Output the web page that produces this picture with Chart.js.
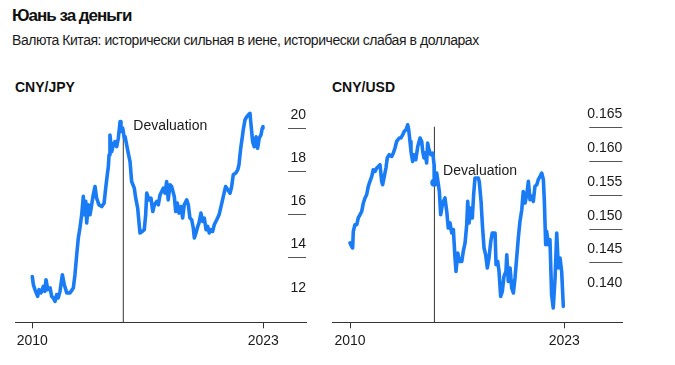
<!DOCTYPE html>
<html>
<head>
<meta charset="utf-8">
<script src="https://cdn.jsdelivr.net/npm/chart.js@4"></script>
<style>
  html, body { margin: 0; padding: 0; background: #fff; }
  body { width: 675px; height: 365px; position: relative; overflow: hidden;
         font-family: "Liberation Sans", Arial, Helvetica, sans-serif; color: #111; }
  #title { position: absolute; left: 12px; top: 6px; font-size: 17px; font-weight: bold; letter-spacing: -1px; }
  #subtitle { position: absolute; left: 12px; top: 32px; font-size: 14px; letter-spacing: -0.45px; color: #1a1a1a; }
  .ctitle { position: absolute; top: 79px; font-size: 14px; font-weight: bold; color: #111; }
  canvas { position: absolute; }
</style>
</head>
<body>
<div id="title">Юань за деньги</div>
<div id="subtitle">Валюта Китая: исторически сильная в иене, исторически слабая в долларах</div>
<div class="ctitle" style="left:15px">CNY/JPY</div>
<div class="ctitle" style="left:332px">CNY/USD</div>
<canvas id="c1" width="320" height="285" style="left:0;top:80px"></canvas>
<canvas id="c2" width="355" height="285" style="left:320px;top:80px"></canvas>
<script>
// ---- data ----
const xTickYears = [2010, 2023];
const devaluationYear = 2015.12;
const devaluationLabel = "Devaluation";

const jpyYears = [2010.00,2010.06,2010.15,2010.30,2010.38,2010.49,2010.62,2010.71,2010.77,2010.87,
  2011.00,2011.09,2011.18,2011.28,2011.37,2011.46,2011.56,2011.69,2011.80,2011.94,
  2012.12,2012.31,2012.40,2012.50,2012.59,2012.68,2012.78,2012.87,2012.93,2013.01,
  2013.06,2013.15,2013.25,2013.34,2013.43,2013.53,2013.62,2013.75,2013.91,2014.04,
  2014.13,2014.22,2014.28,2014.32,2014.37,2014.47,2014.56,2014.65,2014.75,2014.84,
  2014.94,2014.99,2015.09,2015.18,2015.22,2015.31,2015.40,2015.50,2015.59,2015.74,
  2015.82,2015.93,2016.00,2016.06,2016.19,2016.30,2016.38,2016.44,2016.57,2016.68,
  2016.78,2016.87,2017.00,2017.09,2017.19,2017.28,2017.37,2017.47,2017.56,2017.65,
  2017.75,2017.84,2017.99,2018.07,2018.16,2018.26,2018.37,2018.46,2018.55,2018.69,
  2018.78,2018.87,2018.97,2019.06,2019.12,2019.21,2019.31,2019.38,2019.49,2019.59,
  2019.68,2019.78,2019.87,2019.96,2020.06,2020.15,2020.24,2020.38,2020.51,2020.62,
  2020.75,2020.88,2021.00,2021.13,2021.22,2021.31,2021.45,2021.56,2021.63,2021.73,
  2021.82,2021.87,2021.97,2022.07,2022.16,2022.25,2022.31,2022.40,2022.49,2022.59,
  2022.68,2022.77,2022.87,2022.94,2022.98];
const jpyValues = [13.12,12.74,12.51,12.20,12.51,12.36,12.66,12.43,12.97,12.51,
  12.59,12.20,12.13,11.97,12.28,12.13,12.43,13.20,12.74,12.36,
  12.36,12.59,13.20,14.13,14.90,15.36,15.97,16.82,15.97,16.59,
  15.59,16.43,15.97,16.43,16.89,17.28,16.74,16.43,16.35,16.51,
  17.20,17.82,18.20,18.74,19.66,18.89,19.20,19.35,19.12,19.51,
  20.28,19.82,19.97,19.51,19.58,19.20,18.82,18.43,17.51,17.20,
  16.74,16.28,15.66,15.13,15.20,15.28,15.97,16.97,16.66,16.74,
  16.12,16.43,16.59,16.43,16.89,17.05,17.20,16.97,17.51,16.66,
  17.36,17.28,16.82,16.12,16.51,16.05,16.35,15.82,16.43,16.66,
  16.43,15.82,15.74,15.36,14.90,15.13,15.43,15.59,16.05,15.66,
  15.82,15.28,15.43,15.13,15.28,15.20,15.51,15.74,15.97,16.35,
  16.82,17.28,17.13,16.97,17.28,17.82,17.90,18.05,18.28,19.05,
  19.58,19.89,20.36,20.51,20.59,20.66,20.12,19.35,19.12,19.58,
  19.05,19.51,19.66,19.97,20.05];
const jpyTicks = [12, 14, 16, 18, 20];

const usdYears = [2010.00,2010.10,2010.16,2010.20,2010.30,2010.41,2010.50,2010.61,2010.71,2010.81,
  2010.91,2011.01,2011.11,2011.21,2011.32,2011.41,2011.52,2011.62,2011.72,2011.82,
  2011.92,2011.98,2012.08,2012.18,2012.26,2012.38,2012.53,2012.63,2012.73,2012.83,
  2012.99,2013.09,2013.20,2013.29,2013.40,2013.50,2013.56,2013.64,2013.70,2013.80,
  2013.88,2013.99,2014.11,2014.25,2014.35,2014.41,2014.49,2014.55,2014.65,2014.71,
  2014.79,2014.90,2015.02,2015.10,2015.11,2015.26,2015.32,2015.42,2015.50,2015.62,
  2015.76,2015.87,2015.96,2016.07,2016.17,2016.27,2016.37,2016.43,2016.54,2016.63,
  2016.78,2016.87,2016.98,2017.08,2017.14,2017.22,2017.32,2017.42,2017.50,2017.58,
  2017.78,2017.84,2017.95,2018.03,2018.13,2018.23,2018.33,2018.43,2018.54,2018.63,
  2018.80,2018.86,2018.96,2019.04,2019.14,2019.24,2019.34,2019.46,2019.51,2019.60,
  2019.71,2019.81,2019.91,2020.01,2020.11,2020.21,2020.31,2020.42,2020.51,2020.62,
  2020.72,2020.82,2020.92,2021.02,2021.12,2021.22,2021.33,2021.42,2021.53,2021.63,
  2021.73,2021.79,2021.87,2021.93,2022.03,2022.13,2022.23,2022.33,2022.44,2022.54,
  2022.64,2022.74,2022.84,2022.94];
const usdValues = [0.14785,0.14734,0.14711,0.14957,0.15056,0.15056,0.15156,0.15205,0.15254,0.15378,
  0.15453,0.15501,0.15625,0.15699,0.15773,0.15872,0.15847,0.15898,0.15921,0.15947,
  0.15699,0.15650,0.15773,0.15898,0.16046,0.16095,0.16070,0.16120,0.16194,0.16292,
  0.16343,0.16343,0.16392,0.16441,0.16466,0.16540,0.16466,0.16292,0.16144,0.15996,
  0.16095,0.16021,0.16218,0.16343,0.16292,0.16144,0.16046,0.16120,0.15972,0.16269,
  0.16169,0.16095,0.16120,0.15947,0.15675,0.15823,0.15724,0.15550,0.15205,0.15378,
  0.15453,0.15250,0.15007,0.15082,0.14933,0.14982,0.14562,0.14364,0.14636,0.14512,
  0.14512,0.14660,0.14785,0.15056,0.15402,0.15082,0.15304,0.15156,0.15501,0.15749,
  0.15749,0.15699,0.15402,0.15056,0.14711,0.14611,0.14414,0.14562,0.14809,0.14933,
  0.14933,0.14463,0.14512,0.14364,0.13993,0.14067,0.14289,0.14364,0.14611,0.14215,
  0.14414,0.14117,0.14043,0.14266,0.14562,0.14859,0.15105,0.15279,0.15550,0.15378,
  0.15501,0.15699,0.15427,0.15480,0.15402,0.15625,0.15650,0.15724,0.15773,0.15823,
  0.15724,0.15402,0.14760,0.14957,0.14760,0.14834,0.14018,0.13820,0.14266,0.14933,
  0.14414,0.14562,0.14364,0.13844];
const usdTicks = [0.140, 0.145, 0.150, 0.155, 0.160, 0.165];
const usdDevaluationPoint = [2015.11, 0.1568];

// ---- drawing ----
const FONT = '"Liberation Sans", Arial, Helvetica, sans-serif';
Chart.defaults.font.family = FONT;
const BLUE = '#1a7cf5';

const overlay = {
  id: 'overlay',
  afterDatasetsDraw(chart, args, o) {
    const ctx = chart.ctx, y = chart.scales.y, x = chart.scales.x, ca = chart.chartArea;
    ctx.save();
    ctx.font = '14px ' + FONT;
    ctx.fillStyle = '#1a1a1a';
    ctx.textAlign = 'right';
    ctx.textBaseline = 'middle';
    o.ticks.forEach((v, i) => {
      const py = Math.round(y.getPixelForValue(v)) + 0.5;
      if (i > 0) {
        ctx.strokeStyle = '#555';
        ctx.lineWidth = 1;
        ctx.beginPath();
        ctx.moveTo(ca.right - o.lineLen, py);
        ctx.lineTo(ca.right, py);
        ctx.stroke();
      }
      ctx.fillText(o.fmt(v), ca.right, py - 13.4);
    });
    ctx.textAlign = 'left';
    ctx.fillText(devaluationLabel, x.getPixelForValue(devaluationYear) + o.labelDx, y.getPixelForValue(o.labelY));
    ctx.restore();
  }
};

function makeChart(id, years, values, cfg) {
  const series = years.map((yr, i) => ({ x: yr, y: values[i] }));
  const datasets = [
    { data: series, borderColor: BLUE, borderWidth: 3.6, pointRadius: 0, tension: 0,
      borderJoinStyle: 'round', borderCapStyle: 'round' },
    { data: [{ x: devaluationYear, y: cfg.ymin }, { x: devaluationYear, y: cfg.devTop }],
      borderColor: '#333', borderWidth: 1, pointRadius: 0 }
  ];
  if (cfg.dot) {
    datasets.unshift({ data: [{ x: cfg.dot[0], y: cfg.dot[1] }], showLine: false,
      pointRadius: 4, pointBackgroundColor: BLUE, pointBorderWidth: 0 });
  }
  return new Chart(document.getElementById(id), {
    type: 'line',
    data: { datasets },
    options: {
      responsive: false, animation: false, devicePixelRatio: 1,
      layout: { padding: cfg.padding },
      plugins: { legend: { display: false }, tooltip: { enabled: false },
        overlay: { ticks: cfg.ticks, lineLen: cfg.lineLen, fmt: cfg.fmt, labelY: cfg.labelY, labelDx: cfg.labelDx } },
      scales: {
        x: { type: 'linear', min: cfg.xmin, max: cfg.xmax,
          afterBuildTicks: s => { s.ticks = xTickYears.map(v => ({ value: v })); },
          afterFit: s => { s.height = 30; },
          ticks: { callback: v => String(v), font: { size: 14 }, color: '#1a1a1a', padding: 4, maxRotation: 0 },
          grid: { drawOnChartArea: false, drawTicks: true, tickLength: 6, color: '#333' },
          border: { display: true, color: '#333', width: 1 } },
        y: { type: 'linear', min: cfg.ymin, max: cfg.ymax, display: false }
      }
    },
    plugins: [overlay]
  });
}

makeChart('c1', jpyYears, jpyValues, {
  xmin: 2009.026, xmax: 2025.403, ymin: 11, ymax: 21, devTop: 20.05,
  padding: { left: 15, right: 14, top: 26, bottom: 12.7 },
  ticks: jpyTicks, lineLen: 18, fmt: v => String(v), labelY: 20.08, labelDx: 10
});
makeChart('c2', usdYears, usdValues, {
  xmin: 2008.926, xmax: 2026.518, ymin: 0.13608, ymax: 0.16818, devTop: 0.1651,
  padding: { left: 12.3, right: 52.7, top: 26, bottom: 12.7 },
  ticks: usdTicks, lineLen: 33, fmt: v => v.toFixed(3), labelY: 0.15857, labelDx: 8.7,
  dot: usdDevaluationPoint
});
</script>
</body>
</html>
